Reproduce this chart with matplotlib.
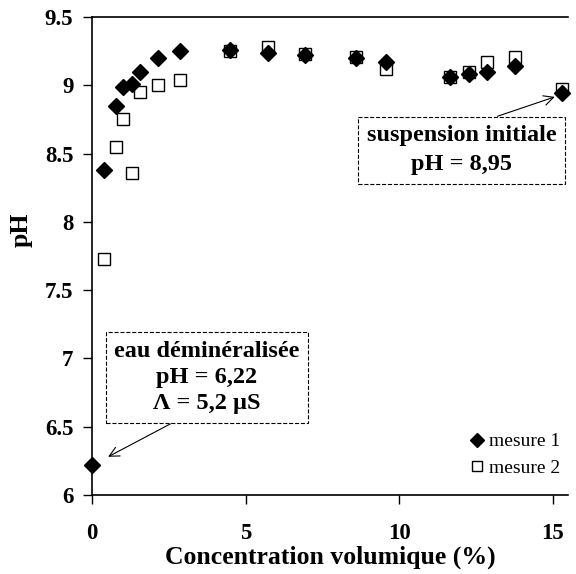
import matplotlib.pyplot as plt

# mesure 1 (losanges noirs)
conc_1 = [0, 0.40, 0.78, 1.02, 1.29, 1.56, 2.15, 2.85, 4.49, 5.74, 6.93, 8.58, 9.56, 11.65, 12.27, 12.87, 13.79, 15.3]
ph_1 = [6.22, 8.38, 8.85, 8.99, 9.01, 9.10, 9.20, 9.25, 9.26, 9.24, 9.22, 9.20, 9.17, 9.06, 9.08, 9.10, 9.14, 8.94]

# mesure 2 (carres blancs)
conc_2 = [0.40, 0.78, 1.02, 1.29, 1.56, 2.15, 2.85, 4.49, 5.74, 6.93, 8.58, 9.56, 11.65, 12.27, 12.87, 13.79, 15.3]
ph_2 = [7.73, 8.55, 8.75, 8.36, 8.95, 9.00, 9.04, 9.25, 9.28, 9.23, 9.21, 9.12, 9.06, 9.10, 9.17, 9.21, 8.975]

x_ticks = [0, 5, 10, 15]
y_ticks = [6, 6.5, 7, 7.5, 8, 8.5, 9, 9.5]
y_labels = ["6", "6.5", "7", "7.5", "8", "8.5", "9", "9.5"]

plt.rcParams['font.family'] = ['Liberation Serif', 'DejaVu Serif']

fig = plt.figure(figsize=(5.76, 5.74), dpi=100)
ax = fig.add_axes([0.16, 0.1376, 0.826, 0.8328])

ax.plot(conc_2, ph_2, linestyle='none', marker='s', markersize=9,
        markerfacecolor='white', markeredgecolor='black', markeredgewidth=1.0,
        label='mesure 2', zorder=2, clip_on=False)
ax.plot(conc_1, ph_1, linestyle='none', marker='D', markersize=7.8,
        markerfacecolor='black', markeredgecolor='black',
        label='mesure 1', zorder=3, clip_on=False)

ax.set_xlim(0, 15.5)
ax.set_ylim(6, 9.5)
ax.set_xticks(x_ticks)
ax.set_yticks(y_ticks)
ax.set_yticklabels(y_labels)
ax.tick_params(axis='both', direction='out', length=6.5, width=1, labelsize=16.5)
ax.tick_params(axis='x', pad=14)
ax.tick_params(axis='y', pad=7)
for lab in ax.get_xticklabels() + ax.get_yticklabels():
    lab.set_fontweight('bold')

ax.spines['right'].set_visible(False)
for s in ['left', 'bottom', 'top']:
    ax.spines[s].set_linewidth(1.2)

ax.set_xlabel('Concentration volumique (%)', fontsize=18.5, fontweight='bold', labelpad=1)
ax.set_ylabel('pH', fontsize=18.5, fontweight='bold')
ax.yaxis.set_label_coords(-0.126, 0.554)

# annotations
box = dict(boxstyle='square,pad=0.35', facecolor='white', edgecolor='black',
           linestyle='--', linewidth=0.8)
ax.annotate('suspension initiale\npH = 8,95', xy=(15.07, 8.915), xytext=(12.04, 8.525),
            ha='center', va='center', fontsize=17.5, fontweight='bold',
            linespacing=1.5, bbox=box,
            arrowprops=dict(arrowstyle='->', color='black', lw=0.8,
                            relpos=(0.55, 1.0), shrinkA=0, shrinkB=0))
ax.annotate('eau déminéralisée\npH = 6,22\nΛ = 5,2 µS', xy=(0.52, 6.28), xytext=(3.74, 6.86),
            ha='center', va='center', fontsize=17.5, fontweight='bold',
            linespacing=1.33, bbox=box,
            arrowprops=dict(arrowstyle='->', color='black', lw=0.8,
                            relpos=(0.40, 0.0), shrinkA=0, shrinkB=0))

handles, labels = ax.get_legend_handles_labels()
ax.legend(handles[::-1], labels[::-1], loc='lower right', bbox_to_anchor=(1.0, 0.022),
          frameon=False, fontsize=14, handlelength=0.6, handletextpad=0.3,
          labelspacing=0.45, borderaxespad=0.0, markerscale=0.85)

fig.savefig('out.png', dpi=100)
